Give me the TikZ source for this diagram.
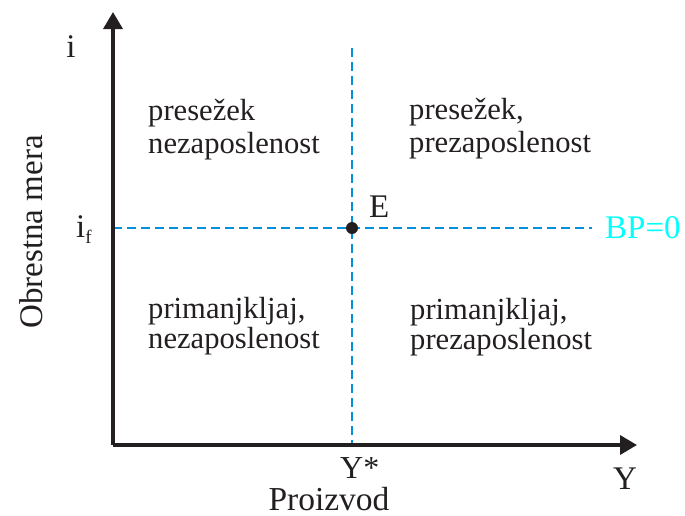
\documentclass[tikz,border=0pt]{standalone}
\usepackage{fontspec}
\setmainfont{Liberation Serif}
\usetikzlibrary{arrows.meta}
\definecolor{ink}{RGB}{35,31,32}
\definecolor{guide}{RGB}{0,145,218}
\definecolor{bpcol}{RGB}{0,255,255}
\tikzset{
  axis/.style={draw=ink, line width=3.5pt, -{Triangle[length=17pt,width=19pt]}},
  guideline/.style={draw=guide, line width=2pt, dash pattern=on 9pt off 5pt},
  lbl/.style={inner sep=0pt, text=ink, font=\fontsize{33}{38}\selectfont},
  region/.style={inner sep=0pt, text=ink, anchor=base west, font=\fontsize{30.6}{35}\selectfont}
}
\begin{document}
\begin{tikzpicture}[x=1pt, y=-1pt]
\useasboundingbox (0,0) rectangle (685,515);

% axes
\coordinate (O) at (113,445);
\coordinate (ytip) at (113,12);
\coordinate (xtip) at (637,445);

% equilibrium guides
\coordinate (vtop) at (352,48);
\coordinate (vbot) at (352,445);
\coordinate (hleft) at (113,228);
\coordinate (hright) at (592,228);
\draw[guideline] (vtop) -- (vbot);
\draw[guideline] (hleft) -- (hright);

\draw[axis] (O) -- (ytip);
\draw[axis] (O) -- (xtip);

% equilibrium point
\node[circle, fill=ink, minimum size=12pt, inner sep=0pt] (E) at (352,228) {};
\node[lbl, anchor=base west] (Elbl) at (369,217) {E};

% axis labels
\node[lbl, anchor=base] (ilbl) at (71,57) {i};
\node[lbl, anchor=base west] (iflbl) at (76,237) {i\raisebox{-6pt}{\fontsize{19}{19}\selectfont f}};
\node[lbl, anchor=base, rotate=90] (ylab) at (42,232) {Obrestna mera};
\node[lbl, anchor=base west, font=\fontsize{32}{36}\selectfont] (ystar) at (340,478) {Y*};
\node[lbl, anchor=base west] (ylbl) at (613,489) {Y};
\node[lbl, anchor=base, font=\fontsize{33.5}{38}\selectfont] (xlab) at (329,510) {Proizvod};
\node[lbl, anchor=base west, text=bpcol] (bp) at (605,238) {BP=0};

% quadrant descriptions
\node[region] (q1a) at (148,120) {presežek};
\node[region] (q1b) at (148,153) {nezaposlenost};
\node[region] (q2a) at (409,119) {presežek,};
\node[region] (q2b) at (409,152) {prezaposlenost};
\node[region] (q3a) at (148,318) {primanjkljaj,};
\node[region] (q3b) at (148,348) {nezaposlenost};
\node[region] (q4a) at (410,319) {primanjkljaj,};
\node[region] (q4b) at (410,349) {prezaposlenost};
\end{tikzpicture}
\end{document}
